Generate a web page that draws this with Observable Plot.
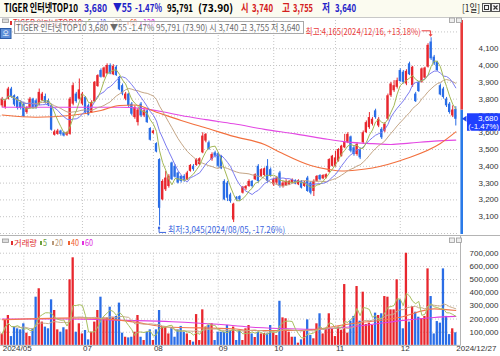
<!DOCTYPE html>
<html><head><meta charset="utf-8">
<script src="https://cdn.jsdelivr.net/npm/d3@7"></script>
<script src="https://cdn.jsdelivr.net/npm/@observablehq/plot@0.6"></script>
<style>
html,body{margin:0;padding:0;background:#fff;}
#root{position:relative;width:500px;height:356px;overflow:hidden;background:#fff;}
#root svg{position:absolute;left:0;display:block;}
</style></head><body><div id="root"></div><script>
// ---------- data ----------
const dates = ["05-23","05-24","05-27","05-28","05-29","05-30","05-31",
"06-03","06-04","06-05","06-07","06-10","06-11","06-12","06-13","06-14","06-17","06-18","06-19","06-20","06-21","06-24","06-25","06-26","06-27","06-28",
"07-01","07-02","07-03","07-04","07-05","07-08","07-09","07-10","07-11","07-12","07-15","07-16","07-17","07-18","07-19","07-22","07-23","07-24","07-25","07-26","07-29","07-30","07-31",
"08-01","08-02","08-05","08-06","08-07","08-08","08-09","08-12","08-13","08-14","08-16","08-19","08-20","08-21","08-22","08-23","08-26","08-27","08-28","08-29","08-30",
"09-02","09-03","09-04","09-05","09-06","09-09","09-10","09-11","09-12","09-13","09-19","09-20","09-23","09-24","09-25","09-26","09-27","09-30",
"10-02","10-04","10-07","10-08","10-10","10-11","10-14","10-15","10-16","10-17","10-18","10-21","10-22","10-23","10-24","10-25","10-28","10-29","10-30","10-31",
"11-01","11-04","11-05","11-06","11-07","11-08","11-11","11-12","11-13","11-14","11-15","11-18","11-19","11-20","11-21","11-22","11-25","11-26","11-27","11-28","11-29",
"12-02","12-03","12-04","12-05","12-06","12-09","12-10","12-11","12-12","12-13","12-16","12-17","12-18","12-19","12-20","12-23","12-24","12-26","12-27"];

const open = [3760,3750,3800,3860,3820,3810,3780,3770,3720,3745,
3800,3790,3765,3790,3815,3790,3760,3585,3590,3610,
3600,3585,3590,3770,3830,3800,3770,3810,3760,3720,
3785,3875,3970,3930,3950,4000,3945,3990,3930,3880,
3800,3830,3770,3690,3660,3770,3700,3730,3625,3595,
3535,3440,3200,3260,3280,3420,3400,3360,3340,3340,
3320,3370,3400,3405,3410,3480,3550,3540,3440,3480,
3475,3460,3310,3300,3230,3080,3215,3220,3240,3265,
3280,3310,3320,3400,3340,3345,3400,3380,3290,3300,
3360,3280,3285,3290,3300,3315,3290,3310,3280,3330,
3300,3250,3310,3345,3325,3330,3365,3400,3400,3430,
3460,3510,3540,3575,3510,3470,3500,3540,3600,3630,
3650,3730,3640,3620,3610,3680,3820,3850,3870,3970,
3960,3890,4010,3880,3830,3900,3900,3925,3990,4140,
4050,4020,3880,3860,3800,3770,3700,3740];
const high = [3810,3800,3870,3870,3825,3815,3790,3780,3755,3810,
3805,3800,3860,3840,3830,3800,3770,3615,3620,3615,
3605,3605,3810,3895,3840,3920,3840,3815,3770,3790,
3905,3945,3980,3990,4010,4010,4005,4000,3935,3890,
3840,3835,3780,3760,3745,3780,3740,3735,3630,3615,
3540,3445,3320,3370,3350,3425,3410,3365,3345,3350,
3370,3410,3410,3445,3450,3600,3595,3550,3480,3490,
3480,3465,3320,3310,3240,3180,3220,3225,3280,3285,
3320,3315,3355,3410,3385,3390,3440,3390,3330,3340,
3370,3310,3320,3315,3325,3320,3320,3315,3310,3340,
3310,3320,3345,3350,3350,3355,3445,3465,3490,3505,
3525,3590,3600,3580,3520,3540,3510,3610,3670,3720,
3690,3740,3690,3630,3660,3830,3900,3910,3925,3980,
3970,3975,4020,3995,3840,3905,3985,3990,4130,4165,
4060,4025,3890,3870,3810,3780,3760,3755];
const low = [3750,3740,3795,3805,3755,3735,3735,3690,3710,3740,
3740,3740,3760,3785,3770,3755,3610,3580,3585,3580,
3575,3578,3585,3760,3775,3795,3760,3715,3700,3715,
3780,3870,3925,3925,3945,3945,3940,3935,3850,3820,
3790,3750,3700,3680,3640,3690,3690,3655,3550,3590,
3480,3045,3195,3250,3270,3315,3330,3295,3300,3305,
3315,3365,3370,3400,3405,3475,3540,3495,3430,3450,
3390,3380,3195,3190,3180,3065,3190,3190,3235,3255,
3275,3270,3315,3300,3335,3340,3300,3335,3280,3290,
3270,3270,3280,3285,3295,3290,3285,3265,3275,3245,
3230,3220,3305,3315,3320,3325,3360,3395,3395,3425,
3455,3505,3535,3480,3460,3460,3440,3530,3595,3620,
3640,3680,3630,3560,3600,3670,3810,3840,3860,3900,
3890,3880,3940,3870,3780,3840,3895,3920,3985,4030,
4000,3965,3820,3800,3750,3710,3690,3640];
const close = [3800,3790,3860,3815,3765,3745,3745,3695,3750,3800,
3745,3750,3840,3830,3775,3760,3615,3605,3610,3590,
3580,3600,3800,3880,3785,3855,3830,3720,3705,3780,
3900,3940,3930,3985,4000,3950,3995,3940,3855,3830,
3830,3760,3710,3750,3735,3700,3730,3660,3555,3610,
3485,3150,3310,3330,3340,3320,3335,3300,3310,3315,
3360,3405,3380,3440,3445,3580,3590,3500,3470,3460,
3400,3385,3200,3210,3190,3175,3200,3200,3275,3280,
3310,3280,3350,3310,3380,3385,3310,3340,3320,3330,
3280,3300,3310,3310,3320,3295,3315,3270,3305,3250,
3240,3310,3340,3320,3345,3350,3440,3460,3450,3500,
3520,3545,3590,3490,3470,3530,3450,3600,3660,3690,
3680,3690,3680,3570,3650,3820,3890,3880,3910,3905,
3900,3965,3945,3990,3785,3845,3980,3985,4120,4040,
4010,3970,3825,3810,3760,3720,3735,3680];
const volume = [87000,190000,227000,67000,139000,126000,118000,164000,93000,67000,
126000,366000,430000,177000,139000,126000,346000,265000,118000,100000,
134000,118000,498000,665000,100000,164000,87000,113000,42000,100000,
177000,265000,366000,209000,209000,290000,214000,220000,321000,93000,
62000,57000,62000,100000,227000,62000,37000,100000,118000,37000,
118000,265000,139000,139000,87000,134000,62000,118000,144000,100000,
87000,37000,25000,234000,37000,270000,139000,152000,164000,37000,
100000,100000,100000,152000,113000,139000,37000,113000,37000,126000,
151000,87000,60000,100000,87000,90000,87000,151000,100000,75000,
335000,209000,202000,100000,62000,62000,17000,42000,113000,194000,
75000,50000,164000,240000,87000,126000,240000,126000,67000,139000,
113000,462000,93000,184000,220000,447000,184000,404000,159000,169000,
151000,245000,227000,240000,371000,366000,270000,270000,498000,346000,
126000,733000,177000,295000,252000,214000,202000,220000,581000,371000,
87000,181000,169000,581000,220000,82000,126000,95791];

// moving averages whose look-back starts before the visible window
const ma60Idx = [0,11,22,32,38,43,50,58,67,75,85,90,100,106,110,115,120,131,142,147];
const ma60Val = [3705,3692,3702,3732,3762,3765,3722,3673,3623,3578,3530,3484,3405,3380,3372,3378,3390,3446,3536,3605];
const ma120Idx = [0,20,38,45,52,58,66,75,85,95,104,112,120,126,132,140,147];
const ma120Val = [3752,3752,3752,3745,3725,3702,3678,3653,3620,3593,3565,3544,3535,3530,3538,3550,3556];
const vma40Idx = [0,26,43,53,75,80,97,113,129,140,147];
const vma40Val = [195000,209000,177000,140000,126000,113000,113000,164000,214000,277000,265000];
const vma60Idx = [0,20,40,55,70,80,90,100,110,120,130,140,147];
const vma60Val = [200000,200000,190000,180000,160000,140000,128000,122000,135000,160000,190000,212000,220000];

const priceTicks = [3100,3200,3300,3400,3500,3600,3700,3800,3900,4000,4100];
const priceGrid = [3000,3100,3200,3300,3400,3500,3600,3700,3800,3900,4000,4100,4200];
const volTicks = [100000,200000,300000,400000,500000,600000,700000];
const gridDates = ["06-03","07-01","08-01","09-02","10-02","11-01","12-02"];
const tickDates = ["05-23","07-01","08-01","09-02","10-02","11-01","12-02","12-27"];
const tickLabels = ["2024/05","07","08","09","10","11","12","2024/12/27"];

const ticker = "TIGER 인터넷TOP10";
const volRatio = "(73.90)";

// ---------- setup ----------
const KR = "'Noto Sans CJK KR','Noto Sans',sans-serif";
const NUM = "'Liberation Sans',Arial,sans-serif";
const UP = "#e8262d", DOWN = "#2a6de6";
const N = dates.length;
const rows = dates.map((d, i) => ({i, o: open[i], h: high[i], l: low[i], c: close[i], v: volume[i]}));
const col = d => d.c >= d.o ? UP : DOWN;
const idx = s => dates.indexOf(s);
const monthStarts = gridDates.map(idx);
const tickRows = tickDates.map((d, k) => ({i: idx(d), label: tickLabels[k]}));
const pts = (I, V) => I.map((i, k) => ({i, v: V[k]}));
const lastClose = close[N - 1], prevClose = close[N - 2];
const fmt = d3.format(",");
const yTop = 4268, yBot = 2994;
const xOpt = {domain: [0, N - 1], range: [1.7, 455.3], axis: null};
const gridStyle = {stroke: "#c4c4c4", strokeOpacity: 1, strokeDasharray: "1,2"};
const root = d3.select("#root");

function scaleFn(s) {
  if (s && typeof s.apply === "function") return v => s.apply(v);
  return d3.scaleLinear().domain(s.domain).range(s.range);
}
function txt(g, o) {
  const t = g.append("text").attr("x", o.x).attr("y", o.y).attr("dy", "0.35em")
    .attr("font-size", o.size || 9).attr("fill", o.fill || "#000")
    .attr("font-weight", o.weight || 400).attr("text-anchor", o.anchor || "start")
    .attr("font-family", o.family || KR).text(o.s);
  if (o.len) t.attr("textLength", o.len).attr("lengthAdjust", "spacingAndGlyphs");
  return t;
}

// ---------- header ----------
const head = root.append("svg").attr("width", 500).attr("height", 18).style("top", "0px");
head.append("rect").attr("width", 500).attr("height", 18).attr("fill", "#fbfbf0");
head.append("line").attr("x1", 0).attr("x2", 500).attr("y1", 17.5).attr("y2", 17.5).attr("stroke", "#c8c8c8");
const HB = "#1f22c8", HR = "#d42020";
const chg = lastClose - prevClose, pct = chg / prevClose * 100;
const headerParts = [
  [ticker, 4, 74, "#000"],
  [fmt(lastClose), 84, 23, HB],
  ["▼" + Math.abs(chg), 113, 19, HB],
  [pct.toFixed(2) + "%", 135, 27, HB],
  [fmt(volume[N - 1]), 167, 26, "#000"],
  [volRatio, 198, 35, "#000"],
  ["시", 241, 7.5, HR], [fmt(open[N - 1]), 252, 21, HR],
  ["고", 282, 8, HR], [fmt(high[N - 1]), 293, 20, HR],
  ["저", 322, 8, HB], [fmt(low[N - 1]), 335, 21, HB]
];
headerParts.forEach(([s, x, len, fill]) => txt(head, {s, x, y: 8, len, fill, size: 11, weight: 700}));
txt(head, {s: "[1일]", x: 462, y: 8, len: 18, size: 10, fill: "#222"});
[482, 491].forEach((x, k) => {
  head.append("rect").attr("x", x + 0.5).attr("y", 3.5).attr("width", 8).attr("height", 8).attr("fill", "#f4f4f4").attr("stroke", "#555");
  if (k === 0) head.append("rect").attr("x", x + 2.5).attr("y", 5.5).attr("width", 4).attr("height", 4).attr("fill", "none").attr("stroke", "#333");
  else head.append("path").attr("d", `M${x + 2.5},5.5L${x + 6.5},9.5M${x + 6.5},5.5L${x + 2.5},9.5`).attr("stroke", "#333").attr("stroke-width", 1.2);
});

// ---------- price panel ----------
const price = Plot.plot({
  width: 500, height: 218, marginTop: 2, marginBottom: 2, marginLeft: 0, marginRight: 42,
  style: {fontFamily: NUM, fontSize: "8px", background: "transparent", overflow: "visible"},
  x: xOpt,
  y: {domain: [yBot, yTop], axis: null},
  color: {type: "identity"},
  marks: [
    Plot.gridY(priceGrid, gridStyle),
    Plot.gridX(monthStarts, gridStyle),
    Plot.ruleX(rows, {x: "i", y1: "l", y2: "h", stroke: col, strokeWidth: 1, clip: true}),
    Plot.rect(rows, {x1: d => d.i - 0.37, x2: d => d.i + 0.37, y1: "o", y2: "c", fill: col, clip: true}),
    Plot.line(pts(ma120Idx, ma120Val), {x: "i", y: "v", stroke: "#e348e3", strokeWidth: 1.1, curve: "monotone-x", clip: true}),
    Plot.line(pts(ma60Idx, ma60Val), {x: "i", y: "v", stroke: "#f2703e", strokeWidth: 1.1, curve: "monotone-x", clip: true}),
    Plot.lineY(rows, Plot.windowY({k: 20, anchor: "end", reduce: "mean"}, {x: "i", y: "c", stroke: "#c4a585", strokeWidth: 1, clip: true})),
    Plot.lineY(rows, Plot.windowY({k: 10, anchor: "end", reduce: "mean"}, {x: "i", y: "c", stroke: "#7b7bf0", strokeWidth: 1, clip: true})),
    Plot.lineY(rows, Plot.windowY({k: 5, anchor: "end", reduce: "mean"}, {x: "i", y: "c", stroke: "#a3b856", strokeWidth: 1, clip: true})),
    Plot.text(priceTicks, {y: d => d, text: d => fmt(d), frameAnchor: "right", textAnchor: "end", dx: 40, fill: "#333", fontSize: 8}),
    Plot.ruleX([rows[N - 1]], {x: "i", y1: () => yBot, y2: () => prevClose, stroke: "#2a7ae8", strokeWidth: 2.6, dx: 5.9}),
    Plot.ruleX([rows[N - 1]], {x: "i", y1: () => prevClose, y2: () => yTop, stroke: "#e83a3a", strokeWidth: 2.6, dx: 5.9})
  ]
});
d3.select(price).style("top", "18px");
root.node().appendChild(price);

const px = scaleFn(price.scale("x")), py = scaleFn(price.scale("y"));
const pg = d3.select(price).append("g");
// legend
pg.append("rect").attr("x", 2.5).attr("y", 1).attr("width", 6).attr("height", 3.5).attr("fill", "#ddd").attr("stroke", "#999").attr("stroke-width", 0.8);
const legP = [[ticker, 10, 72, "#e03030"], ["5", 85, 6, "#6aa040"], ["10", 97, 9, "#4848f0"], ["20", 112, 10, "#b8987a"], ["60", 127, 10, "#f06030"], ["120", 140, 15, "#e030e0"]];
legP.forEach(([s, x, w, c]) => {
  pg.append("rect").attr("x", x).attr("y", 3).attr("width", 2).attr("height", 4).attr("fill", c);
  txt(pg, {s, x: x + 3, y: 5, len: w - 3, size: 8.5, fill: c});
});
// overlay info box
pg.append("rect").attr("x", 14.5).attr("y", 3.5).attr("width", 289).attr("height", 12).attr("fill", "#fff").attr("fill-opacity", 0.72).attr("stroke", "#a8a8a8");
txt(pg, {s: `${ticker} ${fmt(lastClose)} ▼${Math.abs(chg)} ${pct.toFixed(2)}% ${fmt(volume[N - 1])} ${volRatio} 시 ${fmt(open[N - 1])} 고 ${fmt(high[N - 1])} 저 ${fmt(low[N - 1])}`, x: 16, y: 10, len: 284, size: 9, fill: "#6a6a6a"});
pg.append("rect").attr("x", 0.5).attr("y", 10.5).attr("width", 10.5).attr("height", 10).attr("fill", "#5d8fd8").attr("stroke", "#2d5ca8");
txt(pg, {s: "오", x: 5.75, y: 15.5, size: 7, fill: "#fff", anchor: "middle"});
// small panel buttons
[449, 456].forEach(x => pg.append("rect").attr("x", x + 0.5).attr("y", 0).attr("width", 5).attr("height", 4.5).attr("fill", "#eee").attr("stroke", "#999").attr("stroke-width", 0.8));
// max / min annotations
const iMax = d3.maxIndex(high), iMin = d3.minIndex(low);
const xMx = px(iMax), yMx = py(high[iMax]);
const maxTxt = `최고:${fmt(high[iMax])}(2024/${dates[iMax].replace("-", "/")}, +${((high[iMax] / lastClose - 1) * 100).toFixed(2)}%)`;
txt(pg, {s: maxTxt, x: xMx - 10, y: yMx - 5.5, anchor: "end", len: 115, size: 9, fill: "#ea3c3c"});
pg.append("path").attr("d", `M${xMx - 9},${yMx - 6.5}H${xMx}V${yMx - 2.5}`).attr("fill", "none").attr("stroke", "#ea3c3c");
pg.append("path").attr("d", `M${xMx - 2},${yMx - 3}L${xMx + 2},${yMx - 3}L${xMx},${yMx - 0.5}Z`).attr("fill", "#ea3c3c");
const xMn = px(iMin), yMn = py(low[iMin]);
const minTxt = `최저:${fmt(low[iMin])}(2024/${dates[iMin].replace("-", "/")}, ${((low[iMin] / lastClose - 1) * 100).toFixed(2)}%)`;
pg.append("path").attr("d", `M${xMn},${yMn + 1}V${yMn + 7}H${xMn + 7}`).attr("fill", "none").attr("stroke", "#3a66e0");
pg.append("circle").attr("cx", xMn).attr("cy", yMn + 2.5).attr("r", 1.2).attr("fill", "#3a66e0");
txt(pg, {s: minTxt, x: xMn + 9, y: yMn + 4, len: 117, size: 9, fill: "#3a66e0"});
// last price tag
const yL = py(lastClose);
pg.append("path").attr("d", `M462,${yL}L466.5,${yL - 3}L466.5,${yL + 3}Z`).attr("fill", "#1f45e8");
pg.append("rect").attr("x", 467).attr("y", yL - 5.5).attr("width", 33).attr("height", 17.5).attr("fill", "#2040ff");
txt(pg, {s: fmt(lastClose), x: 498, y: yL - 0.8, anchor: "end", size: 8, fill: "#fff", family: NUM});
txt(pg, {s: `(${pct.toFixed(2)}%)`, x: 499, y: yL + 7.6, anchor: "end", size: 8, fill: "#fff", family: NUM});

// ---------- volume panel ----------
const vol = Plot.plot({
  width: 500, height: 120, marginTop: 16.7, marginBottom: 11.1, marginLeft: 0, marginRight: 42,
  style: {fontFamily: NUM, fontSize: "8px", background: "transparent", overflow: "visible"},
  x: xOpt,
  y: {domain: [0, 700000], axis: null},
  color: {type: "identity"},
  marks: [
    Plot.gridY(volTicks, gridStyle),
    Plot.gridX(monthStarts, gridStyle),
    Plot.rect(rows, {x1: d => d.i - 0.37, x2: d => d.i + 0.37, y1: () => 0, y2: "v", fill: col, clip: true}),
    Plot.line(pts(vma60Idx, vma60Val), {x: "i", y: "v", stroke: "#e040e0", strokeWidth: 1.1, curve: "monotone-x", clip: true}),
    Plot.line(pts(vma40Idx, vma40Val), {x: "i", y: "v", stroke: "#f27850", strokeWidth: 1.1, curve: "monotone-x", clip: true}),
    Plot.lineY(rows, Plot.windowY({k: 20, anchor: "end", reduce: "mean"}, {x: "i", y: "v", stroke: "#c9ad8c", strokeWidth: 1, clip: true})),
    Plot.lineY(rows, Plot.windowY({k: 5, anchor: "end", reduce: "mean"}, {x: "i", y: "v", stroke: "#a8c060", strokeWidth: 1, clip: true})),
    Plot.text(volTicks, {y: d => d, text: d => fmt(d), frameAnchor: "right", textAnchor: "end", dx: 40, fill: "#333", fontSize: 8}),
    Plot.text(tickRows, {x: "i", text: "label", frameAnchor: "bottom", textAnchor: "start", dy: 6, dx: 0.5, fill: "#333", fontSize: 8})
  ]
});
d3.select(vol).style("top", "236px");
root.node().appendChild(vol);
const vg = d3.select(vol).append("g");
vg.append("line").attr("x1", 0).attr("x2", 500).attr("y1", -0.5).attr("y2", -0.5).attr("stroke", "#b4b4b4");
vg.append("line").attr("x1", 460.5).attr("x2", 460.5).attr("y1", 0).attr("y2", 109.4).attr("stroke", "#b4b4b4");
vg.append("line").attr("x1", 0).attr("x2", 460.5).attr("y1", 109.4).attr("y2", 109.4).attr("stroke", "#b4b4b4");
vg.append("rect").attr("x", 2.5).attr("y", 3).attr("width", 6).attr("height", 3.5).attr("fill", "#ddd").attr("stroke", "#999").attr("stroke-width", 0.8);
const legV = [["거래량", 11, 26, "#e03030"], ["5", 40, 7, "#6aa040"], ["20", 52, 11, "#b8987a"], ["40", 68, 11, "#f06030"], ["60", 82, 11, "#e030e0"]];
legV.forEach(([s, x, w, c]) => {
  vg.append("rect").attr("x", x).attr("y", 5).attr("width", 2).attr("height", 4).attr("fill", c);
  txt(vg, {s, x: x + 3, y: 7, len: w - 3, size: 8.5, fill: c});
});
[449, 456].forEach(x => vg.append("rect").attr("x", x + 0.5).attr("y", 2).attr("width", 5).attr("height", 4.5).attr("fill", "#eee").attr("stroke", "#999").attr("stroke-width", 0.8));
</script></body></html>
